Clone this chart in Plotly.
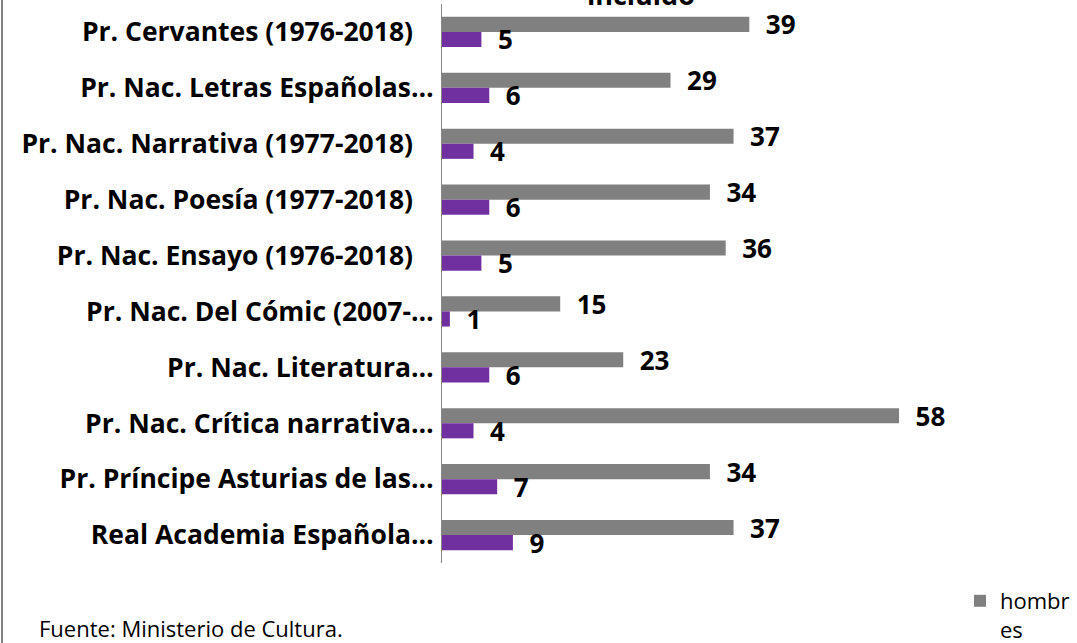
import plotly.graph_objects as go

categorias = [
    "Pr. Cervantes (1976-2018)\u00a0\u00a0\u00a0",
    "Pr. Nac. Letras Españolas…",
    "Pr. Nac. Narrativa (1977-2018)\u00a0\u00a0\u00a0",
    "Pr. Nac. Poesía (1977-2018)\u00a0\u00a0\u00a0",
    "Pr. Nac. Ensayo (1976-2018)\u00a0\u00a0\u00a0",
    "Pr. Nac. Del Cómic (2007-…",
    "Pr. Nac. Literatura…",
    "Pr. Nac. Crítica narrativa…",
    "Pr. Príncipe Asturias de las…",
    "Real Academia Española…",
]
hombres = [39, 29, 37, 34, 36, 15, 23, 58, 34, 37]
mujeres = [5, 6, 4, 6, 5, 1, 6, 4, 7, 9]

FONT = "Open Sans"
L, T, B, R = 442, 4, 80, 124
W, H = 1077, 643
pw = W - L - R
ph = H - T - B

def px_x(px):
    return (px - L) / pw

def px_y(py):
    return (H - B - py) / ph

fig = go.Figure()
fig.add_trace(go.Bar(
    y=categorias, x=hombres, orientation="h", name="hombr<br>es",
    marker=dict(color="#808080", line=dict(width=0)),
    text=[f"\u00a0\u00a0{v}" for v in hombres], textposition="outside",
    textfont=dict(family=FONT, size=26, color="black", weight="bold"),
    cliponaxis=False, constraintext="none",
))
fig.add_trace(go.Bar(
    y=categorias, x=mujeres, orientation="h", name="mujeres",
    marker=dict(color="#7030A0", line=dict(width=0)),
    text=[f"\u00a0\u00a0{v}" for v in mujeres], textposition="outside",
    textfont=dict(family=FONT, size=26, color="black", weight="bold"),
    cliponaxis=False, constraintext="none", showlegend=False,
))

fig.update_layout(
    width=W, height=H,
    margin=dict(l=L, r=R, t=T, b=B, autoexpand=False),
    paper_bgcolor="white", plot_bgcolor="white",
    barmode="group", bargap=0.46, bargroupgap=0,
    font=dict(family=FONT, color="black"),
    xaxis=dict(range=[0, pw / 7.88], visible=False, fixedrange=True),
    yaxis=dict(
        autorange="reversed", showline=True, linecolor="#888888", linewidth=1,
        ticks="", showgrid=False, zeroline=False,
        tickfont=dict(family=FONT, size=26.5, color="black", weight="bold"),
        ticklabelstandoff=2,
    ),
    legend=dict(
        x=px_x(960), y=px_y(580), xanchor="left", yanchor="top",
        font=dict(family=FONT, size=22, color="black"),
        bgcolor="rgba(0,0,0,0)", itemwidth=30, valign="top",
    ),
    showlegend=True,
)

fig.add_annotation(
    text="incluido", xref="paper", yref="paper",
    x=px_x(641), y=px_y(15), xanchor="center", yanchor="bottom",
    showarrow=False, font=dict(family=FONT, size=27, color="black", weight="bold"),
)
fig.add_annotation(
    text="Fuente: Ministerio de Cultura.", xref="paper", yref="paper",
    x=px_x(37), y=px_y(628), xanchor="left", yanchor="middle",
    showarrow=False, font=dict(family=FONT, size=22, color="black"),
)
fig.add_shape(
    type="line", xref="paper", yref="paper",
    x0=px_x(2), x1=px_x(2), y0=px_y(-5), y1=px_y(650),
    line=dict(color="#595959", width=1.5),
)

fig.write_html(
    "out.html",
    config={"displayModeBar": False},
    post_script="document.body.style.margin='0';document.body.style.padding='0';",
)
